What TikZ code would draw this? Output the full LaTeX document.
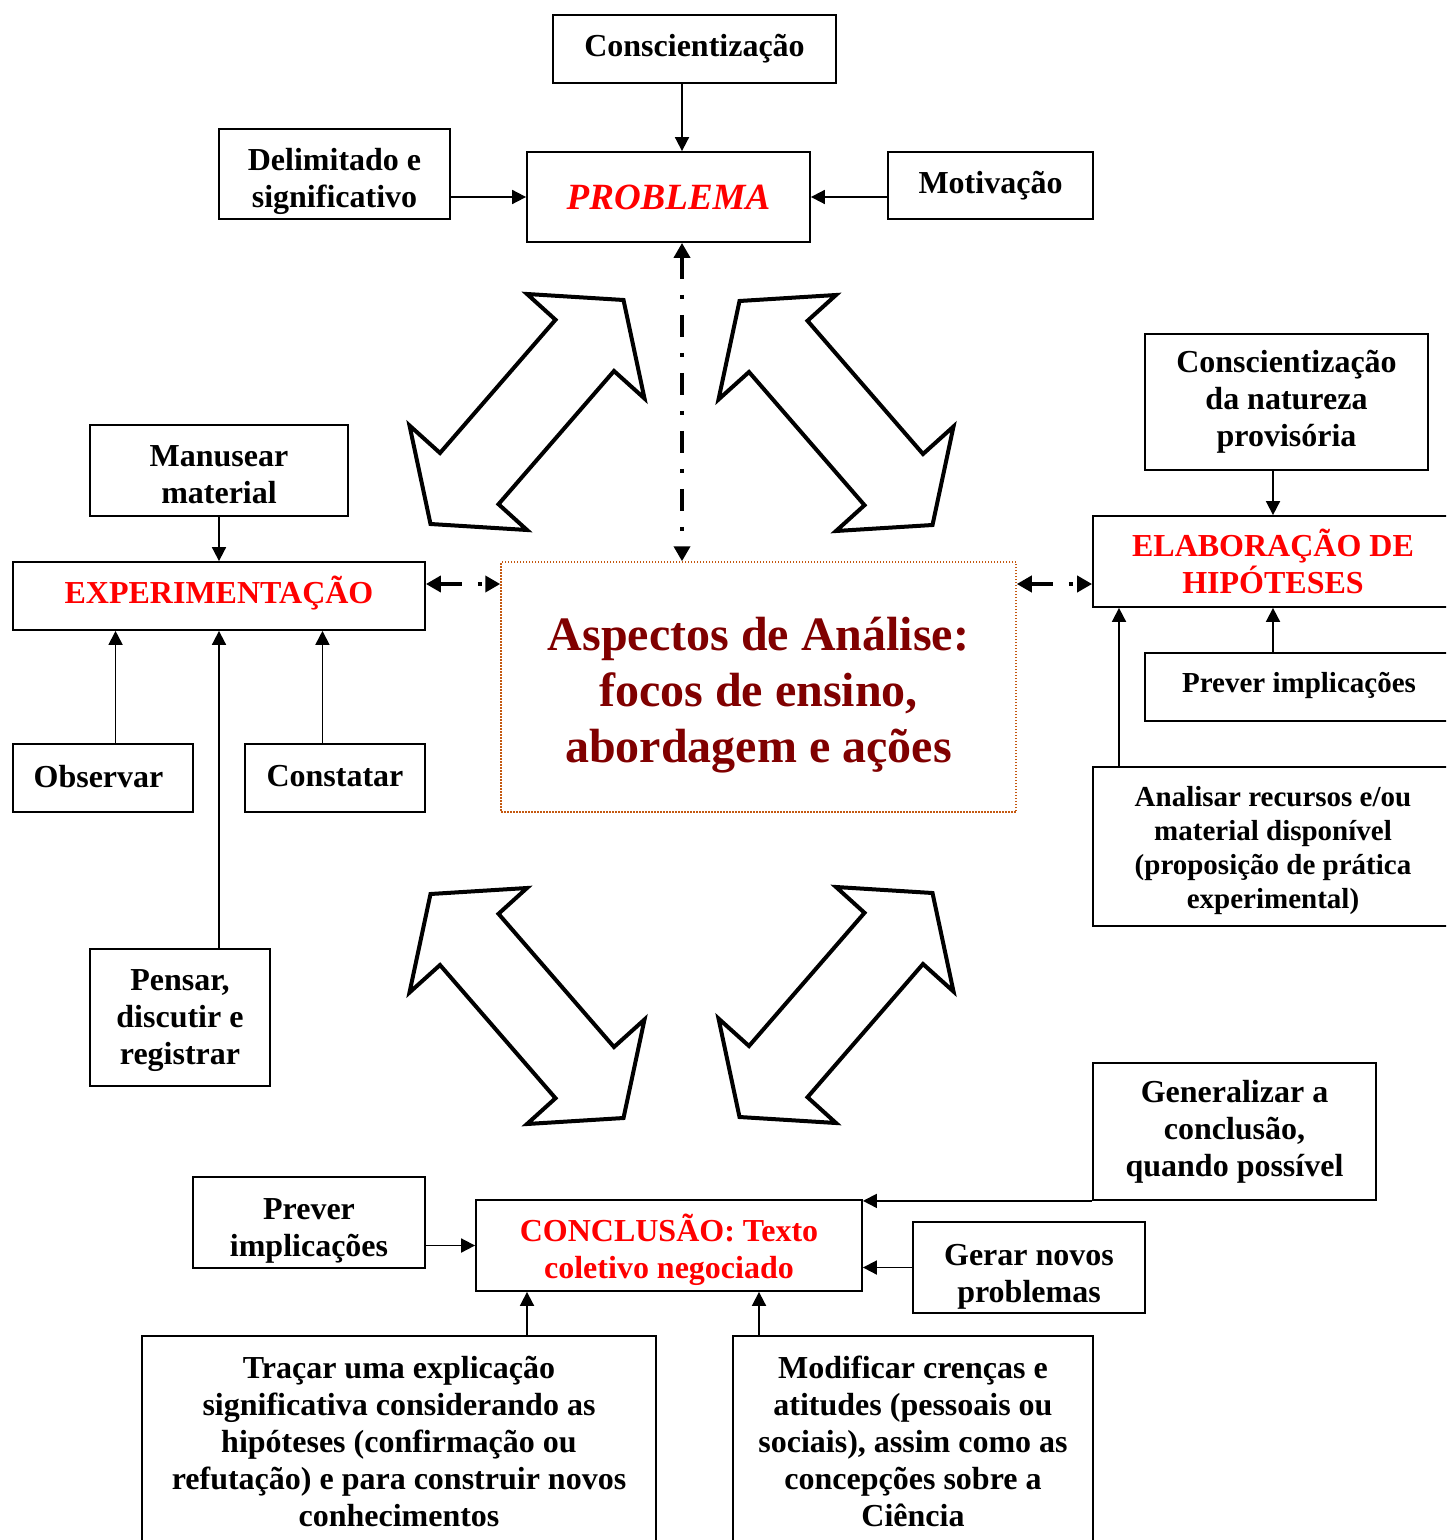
\documentclass[tikz,border=0pt]{standalone}
\usepackage{fontspec}
\setmainfont{Liberation Serif}
\usetikzlibrary{arrows.meta,calc}

\definecolor{vermelho}{RGB}{255,0,0}
\definecolor{vinho}{RGB}{128,0,0}
\definecolor{pontilhado}{RGB}{196,89,17}

% struts to move text inside a fixed box
\newcommand{\alto}[1]{\rule{0pt}{#1}}
\newcommand{\fundo}[1]{\rule[-#1]{0pt}{#1}}

\tikzset{
	caixa/.style={draw, line width=0.9pt, align=center, inner sep=0pt,
		font=\fontsize{16}{18.5}\selectfont\bfseries},
	titulo/.style={caixa, text=vermelho},
	liga/.style={->, line width=0.9pt},
	tracoponto/.style={line width=2.3pt, dash pattern=on 11pt off 8pt on 2pt off 8pt,
		{Triangle[length=7.5pt,width=8pt]}-{Triangle[length=7.5pt,width=8pt]}},
	setagrande/.style={line width=2pt, line join=miter, fill=white},
}

\begin{document}
\begin{tikzpicture}[x=0.5pt, y=-0.5pt, >={Triangle[length=7pt,width=7pt]}]
	% Page size (pixels of the original layout)
	\def\xmax{1446} \def\ymax{1540}
	\useasboundingbox (0,0) rectangle (\xmax,\ymax);
	\clip (0,0) rectangle (\xmax,\ymax);
	
	% Central box
	\node[draw=pontilhado, line width=0.75pt, dash pattern=on 0.75pt off 0.75pt,
		minimum width=257.5pt, minimum height=125pt, align=center, inner sep=0pt,
		text=vinho, font=\fontsize{24}{28}\selectfont\bfseries] (centro) at (758.5,687)
		{\alto{24.6pt}Aspectos de Análise:\\focos de ensino,\\abordagem e ações};
	
	% PROBLEMA and its inputs
	\node[caixa, minimum width=141.5pt, minimum height=34pt] (consc) at (694.5,49) {Conscientização};
	\node[titulo, minimum width=141.5pt, minimum height=45pt,
		font=\fontsize{18.5}{21}\selectfont\bfseries\itshape] (prob) at (668.5,197) {PROBLEMA};
	\node[caixa, minimum width=115.5pt, minimum height=45pt] (delim) at (334.5,174) {\alto{19pt}Delimitado e\\significativo};
	\node[caixa, minimum width=102.5pt, minimum height=33.5pt] (motiv) at (990.5,185.5) {Motivação};
	
	% EXPERIMENTAÇÃO and its inputs
	\node[titulo, minimum width=206pt, minimum height=34pt] (exper) at (219,596) {EXPERIMENTAÇÃO\fundo{6.5pt}};
	\node[caixa, minimum width=129pt, minimum height=45.5pt] (manus) at (219,470.5) {\alto{14.6pt}Manusear\\material};
	\node[caixa, minimum width=90pt, minimum height=34pt] (obs) at (103,778) {Observar\fundo{2pt}\hspace{4.5pt}};
	\node[caixa, minimum width=90pt, minimum height=34pt] (const) at (335,778) {Constatar\fundo{2pt}};
	\node[caixa, minimum width=90pt, minimum height=68.5pt] (pensar) at (180,1017.5) {\alto{13.6pt}Pensar,\\discutir e\\registrar};
	
	% ELABORAÇÃO DE HIPÓTESES and its inputs
	\node[caixa, minimum width=141.5pt, minimum height=68pt] (consnat) at (1286.5,402) {Conscientização\\da natureza\\provisória};
	\node[titulo, minimum width=180pt, minimum height=45.5pt] (elab) at (1273,561.5) {ELABORAÇÃO DE\\HIPÓTESES};
	\node[caixa, minimum width=154pt, minimum height=34pt,
		font=\fontsize{14.5}{17}\selectfont\bfseries] (prevr) at (1299,687) {Prever implicações\fundo{5pt}};
	\node[caixa, minimum width=180pt, minimum height=79.5pt,
		font=\fontsize{14.5}{17}\selectfont\bfseries] (analis) at (1273,846.5)
		{\alto{14pt}Analisar recursos e/ou\\material disponível\\(proposição de prática\\experimental)};
	
	% CONCLUSÃO and its inputs
	\node[titulo, minimum width=193pt, minimum height=45.5pt] (concl) at (669,1245.5) {\alto{17.9pt}CONCLUSÃO: Texto\\coletivo negociado};
	\node[caixa, minimum width=141.5pt, minimum height=68.5pt] (gener) at (1234.5,1131.5) {Generalizar a\\conclusão,\\quando possível};
	\node[caixa, minimum width=116pt, minimum height=45.5pt] (prevl) at (309,1222.5) {\alto{18.6pt}Prever\\implicações};
	\node[caixa, minimum width=116pt, minimum height=45.5pt] (gerar) at (1029,1267.5) {\alto{19.8pt}Gerar novos\\problemas};
	\node[caixa, minimum width=257pt, minimum height=105pt] (tracar) at (399,1441)
		{Traçar uma explicação\\significativa considerando as\\hipóteses (confirmação ou\\refutação) e para construir novos\\conhecimentos};
	\node[caixa, minimum width=180pt, minimum height=105pt] (modif) at (913,1441)
		{Modificar crenças e\\atitudes (pessoais ou\\sociais), assim como as\\concepções sobre a\\Ciência};
	
	% Helper coordinates for off-centre connectors
	\coordinate (eixo) at (682,0);
	\coordinate (linha) at (0,584);
	\coordinate (expA) at ($(exper.south west)!.25!(exper.south east)$);
	\coordinate (expB) at ($(exper.south west)!.75!(exper.south east)$);
	\coordinate (elabA) at (1119,0);
	\coordinate (conA) at (527,0);
	\coordinate (conB) at (759,0);
	
	% Solid connectors
	\draw[liga] (consc.south -| eixo) -- (prob.north -| eixo);
	\draw[liga] (delim.east |- prob.west) -- (prob.west);
	\draw[liga] (motiv.west |- prob.east) -- (prob.east);
	\draw[liga] (manus.south) -- (exper.north);
	\draw[liga] (obs.north -| expA) -- (expA);
	\draw[liga] (const.north -| expB) -- (expB);
	\draw[liga] (pensar.north -| exper.south) -- (exper.south);
	\draw[liga] (consnat.south -| elab.north) -- (elab.north);
	\draw[liga] (prevr.north -| elab.south) -- (elab.south);
	\draw[liga] (analis.north -| elabA) -- (elab.south -| elabA);
	\draw[liga] (gener.south west) -- (gener.south west -| concl.east);
	\draw[liga] (gerar.west) -- (gerar.west -| concl.east);
	\draw[liga] (prevl.east |- concl.west) -- (concl.west);
	\draw[liga] (tracar.north -| conA) -- (concl.south -| conA);
	\draw[liga] (modif.north -| conB) -- (concl.south -| conB);
	
	% Dash-dot double arrows to the central box
	\draw[tracoponto] (prob.south -| eixo) -- (centro.north -| eixo);
	\draw[tracoponto] (exper.east |- linha) -- (centro.west |- linha);
	\draw[tracoponto] (centro.east |- linha) -- (elab.west |- linha);
	
	% Big hollow double arrows
	\foreach \cx/\cy/\sx in {527/412/1, 836/413/-1, 527/1006/-1, 836/1005/1}
		\draw[setagrande, shift={(\cx,\cy)}, xscale=\sx]
		(0,-118) -- (96.5,-112) -- (117.5,-13.5) -- (87,-41) -- (-28.5,92.2)
		-- (0,118) -- (-96.5,112) -- (-117.5,13.5) -- (-87,41) -- (28.5,-92.2) -- cycle;
\end{tikzpicture}
\end{document}
